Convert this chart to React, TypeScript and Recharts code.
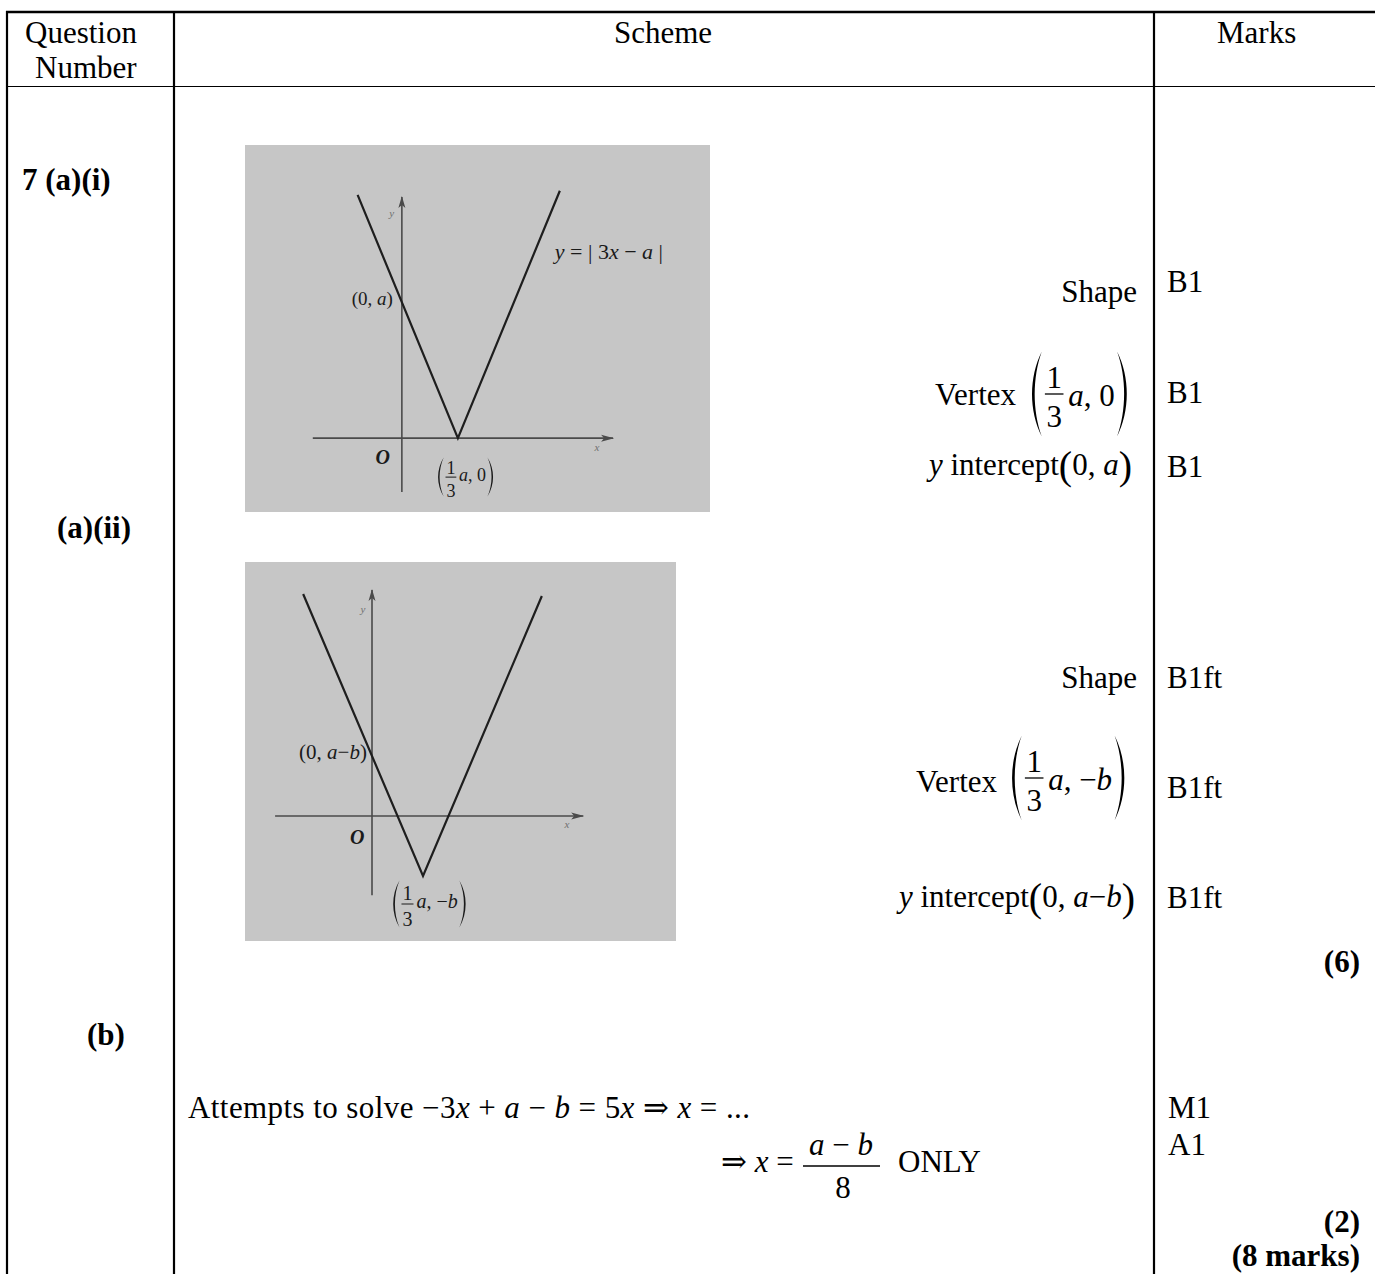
import React from "react";
import { ComposedChart, Line, Scatter, XAxis, YAxis, ReferenceLine } from "recharts";

const FONT = '"Liberation Serif", "Times New Roman", "DejaVu Serif", serif';
const GRAY = "#c6c6c6";
const CURVE = "#1e1e1e";
const AXIS = "#4a4a4a";

// (a)(i)  y = |3x - a|, drawn with a = 3
const curveI = [{ x: -0.79, y: 5.37 }, { x: 1, y: 0 }, { x: 2.82, y: 5.46 }];
const axisXI = [-1.59, 3.77];
const axisYI = [-1.19, 5.32];
const viewXI = [-2.8, 5.5];
const viewYI = [-1.63, 6.47];
const labelsI = [
  { x: -0.18, y: 4.97, kind: "axis", text: "y" },
  { x: 3.48, y: -0.2, kind: "axis", text: "x" },
  { x: -0.34, y: -0.42, kind: "origin", text: "O" },
  { x: -0.16, y: 3.09, kind: "point", text: "(0, a)" },
  { x: 2.73, y: 4.13, kind: "eqn", text: "y = | 3x − a |" },
  { x: 0.625, y: -0.86, kind: "vertex", text: "a, 0" },
];

// (a)(ii)  y = |3x - a| - b, drawn with a = 3, b = 1.5
const curveII = [{ x: -1.35, y: 5.55 }, { x: 1, y: -1.5 }, { x: 3.33, y: 5.5 }];
const axisXII = [-1.9, 4.14];
const axisYII = [-1.98, 5.65];
const viewXII = [-2.49, 5.96];
const viewYII = [-3.125, 6.35];
const labelsII = [
  { x: -0.18, y: 5.18, kind: "axis", text: "y" },
  { x: 3.82, y: -0.2, kind: "axis", text: "x" },
  { x: -0.29, y: -0.53, kind: "origin", text: "O" },
  { x: -0.1, y: 1.6, kind: "point", text: "(0, a−b)" },
  { x: 0.39, y: -2.2, kind: "vertex", text: "a, −b" },
];

const marksI = ["B1", "B1", "B1"];
const marksII = ["B1ft", "B1ft", "B1ft"];
const marksB = ["M1", "A1"];

const CHAR_W: Record<string, number> = {
  a: 0.5, b: 0.5, x: 0.444, y: 0.444, ",": 0.25, " ": 0.25, "−": 0.564, "0": 0.5,
};
function estWidth(str: string, size: number) {
  let w = 0;
  for (const ch of str) w += CHAR_W[ch] ?? 0.5;
  return w * size;
}

// latin letters in maths are set in italics
function mathSpans(str: string) {
  return str.split(/([a-z])/).filter((s) => s !== "").map((s, i) =>
    /^[a-z]$/.test(s)
      ? <tspan key={i} fontStyle="italic">{s}</tspan>
      : <tspan key={i}>{s}</tspan>
  );
}

function paren(x: number, top: number, h: number, pw: number, open: boolean) {
  const bot = top + h;
  if (open) {
    return `M${x + pw},${top} C${x - 0.1 * pw},${top + 0.3 * h} ${x - 0.1 * pw},${bot - 0.3 * h} ${x + pw},${bot}` +
      ` C${x + 0.2 * pw},${bot - 0.3 * h} ${x + 0.2 * pw},${top + 0.3 * h} ${x + pw},${top} Z`;
  }
  return `M${x},${top} C${x + 1.1 * pw},${top + 0.3 * h} ${x + 1.1 * pw},${bot - 0.3 * h} ${x},${bot}` +
    ` C${x + 0.8 * pw},${bot - 0.3 * h} ${x + 0.8 * pw},${top + 0.3 * h} ${x},${top} Z`;
}

// ( 1/3 rest )
function Frac({ x, bar, s, h, rest, drop = 0.4, fill = "#000" }: any) {
  const pw = 0.38 * s;
  const fx = x + pw + 0.1 * s;
  const bw = 0.6 * s;
  const rx = fx + bw + 0.15 * s;
  const cxp = rx + estWidth(rest, s) + 0.08 * s;
  const top = bar - h / 2;
  return (
    <g fill={fill}>
      <path d={paren(x, top, h, pw, true)} />
      <text x={fx + bw / 2} y={bar - 0.2 * s} textAnchor="middle" fontSize={s}>1</text>
      <line x1={fx} x2={fx + bw} y1={bar} y2={bar} stroke={fill} strokeWidth={Math.max(1, s / 24)} />
      <text x={fx + bw / 2} y={bar + 1.08 * s} textAnchor="middle" fontSize={s}>3</text>
      <text x={rx} y={bar + drop * s} fontSize={s}>{mathSpans(rest)}</text>
      <path d={paren(cxp, top, h, pw, false)} />
    </g>
  );
}

function ArrowHead(props: any) {
  const { cx, cy, payload } = props;
  if (cx == null || cy == null) return null;
  const pts = payload.dir === "r"
    ? `${cx + 1},${cy} ${cx - 12},${cy - 3.5} ${cx - 9},${cy} ${cx - 12},${cy + 3.5}`
    : `${cx},${cy - 1} ${cx - 3.5},${cy + 11} ${cx},${cy + 8} ${cx + 3.5},${cy + 11}`;
  return <polygon points={pts} fill={AXIS} />;
}

function GraphLabel(props: any) {
  const { cx, cy, payload: d, spec } = props;
  if (cx == null || cy == null) return null;
  if (d.kind === "axis") {
    return <text x={cx} y={cy} fontSize={11} fill="#707070" fontStyle="italic" textAnchor="middle" dominantBaseline="central" fontFamily={FONT}>{d.text}</text>;
  }
  if (d.kind === "origin") {
    return <text x={cx} y={cy} fontSize={20} fill="#1a1a1a" fontStyle="italic" fontWeight="bold" textAnchor="middle" dominantBaseline="central" fontFamily={FONT}>{d.text}</text>;
  }
  if (d.kind === "point") {
    return <text x={cx} y={cy} fontSize={spec.pt} fill="#1a1a1a" textAnchor="end" dominantBaseline="central" fontFamily={FONT}>{mathSpans(d.text)}</text>;
  }
  if (d.kind === "eqn") {
    return <text x={cx} y={cy} fontSize={22} fill="#1a1a1a" dominantBaseline="central" fontFamily={FONT}>{mathSpans(d.text)}</text>;
  }
  return (
    <g fontFamily={FONT}>
      <Frac x={cx} bar={cy} s={spec.s} h={spec.h} rest={d.text} drop={0.22} fill="#1a1a1a" />
    </g>
  );
}

function VGraph({ w, h, curve, axisX, axisY, viewX, viewY, labels, spec }: any) {
  const arrows = [{ x: axisX[1], y: 0, dir: "r" }, { x: 0, y: axisY[1], dir: "u" }];
  return (
    <div style={{ width: w, height: h, background: GRAY }}>
      <ComposedChart width={w} height={h} margin={{ top: 0, right: 0, bottom: 0, left: 0 }}>
        <XAxis type="number" dataKey="x" domain={viewX} hide allowDataOverflow />
        <YAxis type="number" dataKey="y" domain={viewY} hide allowDataOverflow />
        <ReferenceLine segment={[{ x: axisX[0], y: 0 }, { x: axisX[1], y: 0 }]} stroke={AXIS} strokeWidth={1.6} />
        <ReferenceLine segment={[{ x: 0, y: axisY[0] }, { x: 0, y: axisY[1] }]} stroke={AXIS} strokeWidth={1.6} />
        <Line data={curve} dataKey="y" type="linear" stroke={CURVE} strokeWidth={2.2} dot={false} activeDot={false} isAnimationActive={false} />
        <Scatter data={arrows} dataKey="y" shape={ArrowHead} isAnimationActive={false} />
        <Scatter data={labels} dataKey="y" shape={(p: any) => <GraphLabel {...p} spec={spec} />} isAnimationActive={false} />
      </ComposedChart>
    </div>
  );
}

export default function App() {
  return (
    <div style={{ position: "absolute", left: 0, top: 0, width: 1375, height: 1274, background: "#fff", overflow: "hidden" }}>
      <svg width={1375} height={1274} fontFamily={FONT} fontSize={31} style={{ position: "absolute", left: 0, top: 0 }}>
        {/* table rules */}
        <g stroke="#000">
          <line x1={6} y1={12} x2={1375} y2={12} strokeWidth={2.5} />
          <line x1={7} y1={11} x2={7} y2={1274} strokeWidth={2.2} />
          <line x1={174} y1={11} x2={174} y2={1274} strokeWidth={2.2} />
          <line x1={1154} y1={11} x2={1154} y2={1274} strokeWidth={2.2} />
          <line x1={7} y1={86.5} x2={1375} y2={86.5} strokeWidth={1.2} />
        </g>

        {/* header */}
        <text x={25} y={43}>Question</text>
        <text x={35} y={78}>Number</text>
        <text x={663} y={43} textAnchor="middle">Scheme</text>
        <text x={1217} y={43}>Marks</text>

        {/* question labels */}
        <text x={22} y={190} fontWeight="bold">7 (a)(i)</text>
        <text x={57} y={538} fontWeight="bold">(a)(ii)</text>
        <text x={87} y={1045} fontWeight="bold">(b)</text>

        {/* (a)(i) criteria */}
        <text x={1137} y={302} textAnchor="end">Shape</text>
        <text x={1016} y={405} textAnchor="end">Vertex</text>
        <Frac x={1030} bar={394} s={31} h={85} rest="a, 0" />
        <text x={1132} y={475} textAnchor="end">
          <tspan fontStyle="italic">y</tspan> intercept<tspan fontSize={40} dy={4}>(</tspan><tspan dy={-4}>0, </tspan><tspan fontStyle="italic">a</tspan><tspan fontSize={40} dy={4}>)</tspan>
        </text>
        {marksI.map((m, i) => (
          <text key={m + i} x={1167} y={[292, 403, 477][i]}>{m}</text>
        ))}

        {/* (a)(ii) criteria */}
        <text x={1137} y={688} textAnchor="end">Shape</text>
        <text x={997} y={792} textAnchor="end">Vertex</text>
        <Frac x={1010} bar={778} s={31} h={85} rest="a, −b" />
        <text x={1135} y={907} textAnchor="end">
          <tspan fontStyle="italic">y</tspan> intercept<tspan fontSize={40} dy={4}>(</tspan><tspan dy={-4}>0, </tspan><tspan fontStyle="italic">a</tspan><tspan>−</tspan><tspan fontStyle="italic">b</tspan><tspan fontSize={40} dy={4}>)</tspan>
        </text>
        {marksII.map((m, i) => (
          <text key={m + i} x={1167} y={[688, 798, 908][i]}>{m}</text>
        ))}
        <text x={1360} y={972} textAnchor="end" fontWeight="bold">(6)</text>

        {/* (b) */}
        <text x={188} y={1118} textLength={562} lengthAdjust="spacing">
          Attempts to solve {mathSpans(" −3x + a − b = 5x ⇒ x = ...")}
        </text>
        <text x={721} y={1172}>⇒ <tspan fontStyle="italic">x</tspan> =</text>
        <text x={841} y={1155} textAnchor="middle">{mathSpans("a − b")}</text>
        <line x1={803} y1={1166} x2={880} y2={1166} stroke="#000" strokeWidth={1.3} />
        <text x={843} y={1198} textAnchor="middle">8</text>
        <text x={898} y={1172}>ONLY</text>
        {marksB.map((m, i) => (
          <text key={m} x={1168} y={[1118, 1155][i]}>{m}</text>
        ))}
        <text x={1360} y={1232} textAnchor="end" fontWeight="bold">(2)</text>
        <text x={1360} y={1266} textAnchor="end" fontWeight="bold">(8 marks)</text>
      </svg>

      <div style={{ position: "absolute", left: 245, top: 145 }}>
        <VGraph w={465} h={367} curve={curveI} axisX={axisXI} axisY={axisYI}
          viewX={viewXI} viewY={viewYI} labels={labelsI} spec={{ pt: 19, s: 18, h: 39 }} />
      </div>
      <div style={{ position: "absolute", left: 245, top: 562 }}>
        <VGraph w={431} h={379} curve={curveII} axisX={axisXII} axisY={axisYII}
          viewX={viewXII} viewY={viewYII} labels={labelsII} spec={{ pt: 21, s: 20, h: 47 }} />
      </div>
    </div>
  );
}
